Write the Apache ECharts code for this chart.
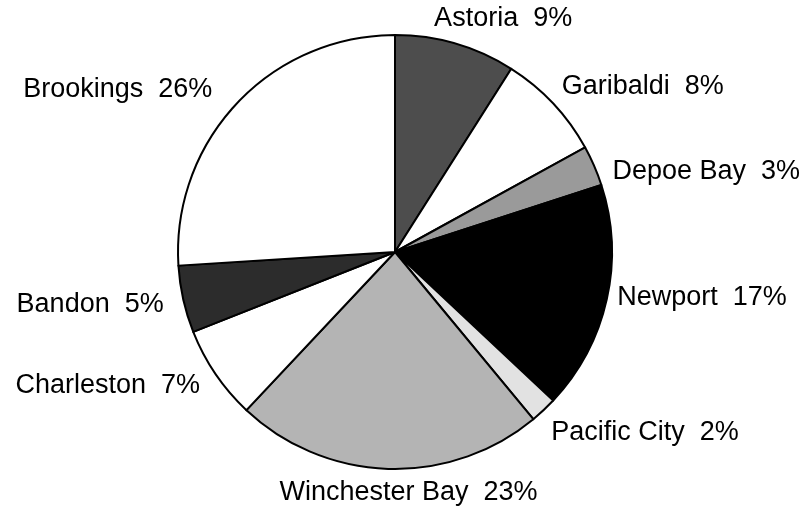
<!DOCTYPE html>
<html>
<head>
<meta charset="utf-8">
<script src="https://cdn.jsdelivr.net/npm/echarts@6/dist/echarts.min.js"></script>
<style>
  html, body { margin: 0; padding: 0; background: #fff; }
  #chart { width: 808px; height: 512px; }
</style>
</head>
<body>
<div id="chart"></div>
<script>
// ports, clockwise from 12 o'clock
const ports = ['Astoria', 'Garibaldi', 'Depoe Bay', 'Newport', 'Pacific City',
  'Winchester Bay', 'Charleston', 'Bandon', 'Brookings']
const shares = [9, 8, 3, 17, 2, 23, 7, 5, 26]

// grey tones standing in for the dithered fills
const sliceColors = ['#4d4d4d', '#ffffff', '#9a9a9a', '#000000', '#e2e2e2',
  '#b4b4b4', '#ffffff', '#2c2c2c', '#ffffff']
// small hand nudges for the labels [dx, dy]
const labelNudge = [[-27, -6], [-6, -3], [0, 14], [-9, -6], [-6, 8],
  [21, 4], [1, 0], [0, 1], [-10, 0]]

const cx = 395, cy = 252, r = 217

const total = shares.reduce((a, b) => a + b, 0)
const midAngles = []
let acc = 0
shares.forEach(v => {
  midAngles.push((acc + v / 2) / total * Math.PI * 2)
  acc += v
})

const chart = echarts.init(document.getElementById('chart'))
chart.setOption({
  animation: false,
  series: [{
    type: 'pie',
    center: [cx, cy],
    radius: r,
    startAngle: 90,
    clockwise: true,
    silent: true,
    avoidLabelOverlap: false,
    itemStyle: { borderColor: '#000', borderWidth: 2 },
    label: {
      show: true,
      position: 'outside',
      formatter: '{b}  {c}%',
      fontFamily: 'Liberation Sans',
      fontSize: 27,
      color: '#000'
    },
    labelLine: { show: false },
    labelLayout: (p) => {
      const a = midAngles[p.dataIndex]
      const s = Math.sin(a)
      const n = labelNudge[p.dataIndex]
      return {
        x: cx + (r + 20) * s + n[0],
        y: cy - (r + 20) * Math.cos(a) + n[1],
        align: s > 0.2 ? 'left' : (s < -0.2 ? 'right' : 'center'),
        verticalAlign: 'middle'
      }
    },
    data: ports.map((name, i) => ({
      name,
      value: shares[i],
      itemStyle: { color: sliceColors[i] }
    }))
  }]
})
</script>
</body>
</html>
